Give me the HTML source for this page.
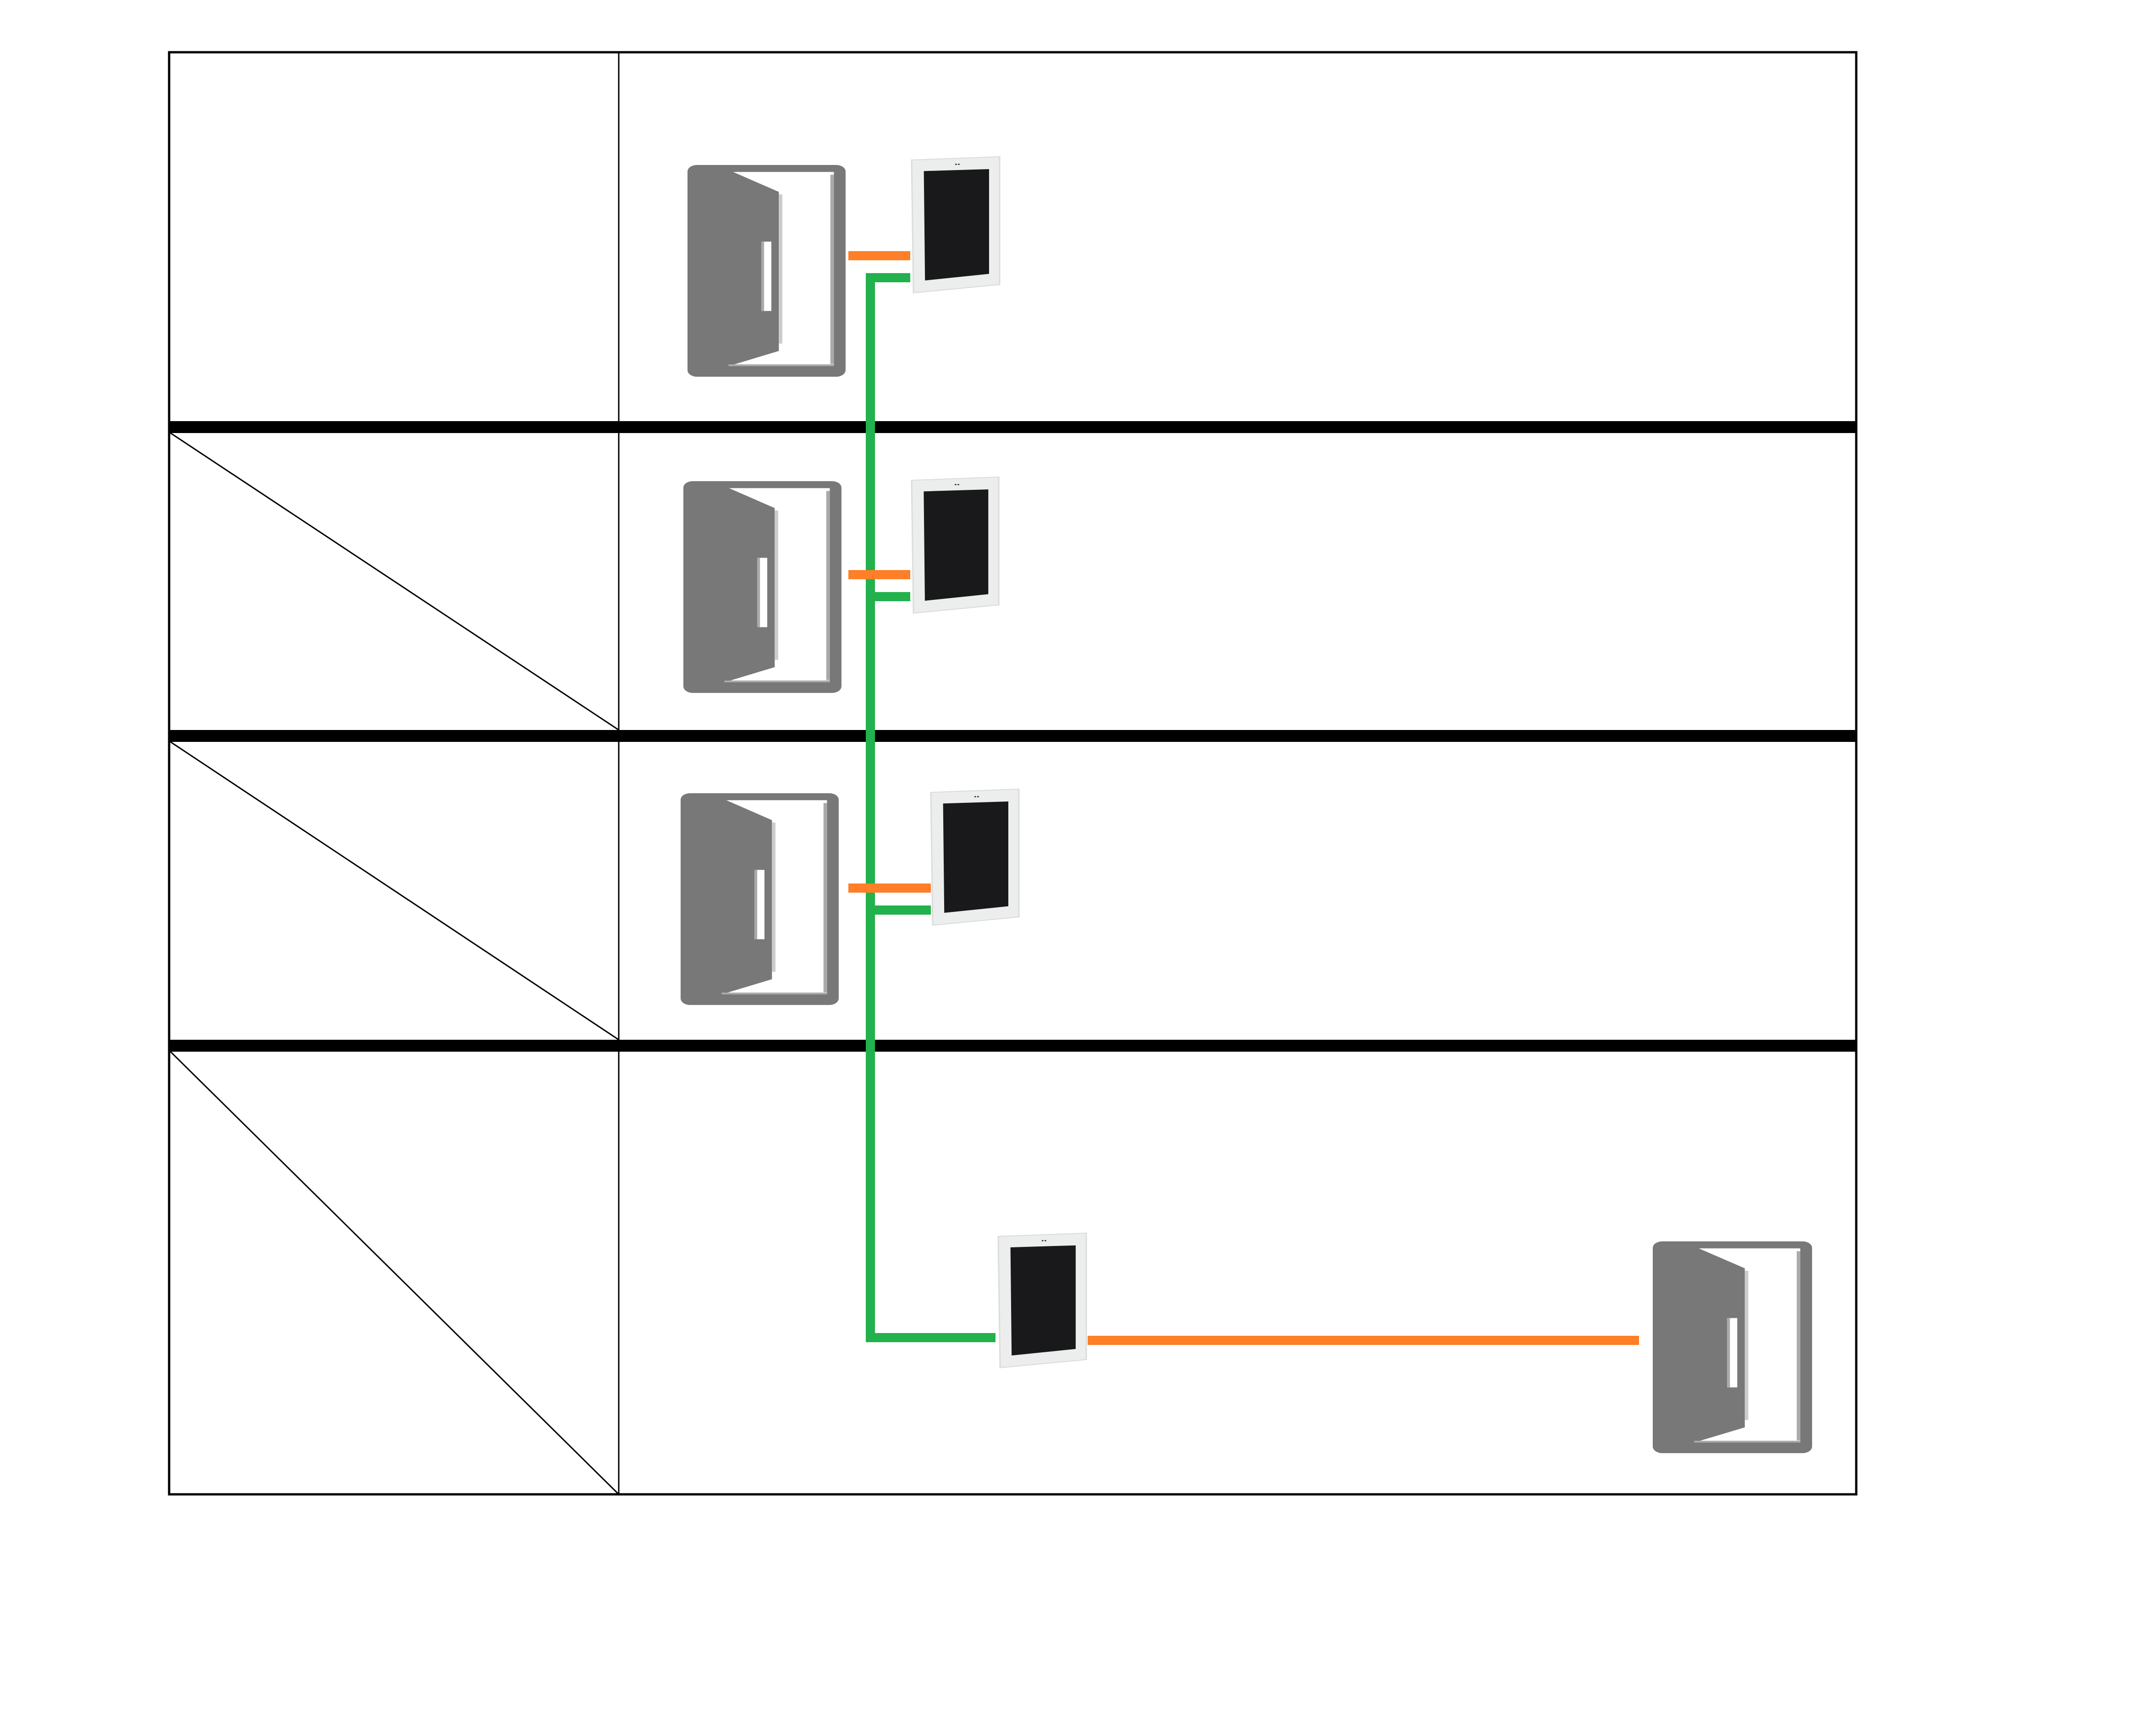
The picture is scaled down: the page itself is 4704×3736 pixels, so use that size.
<!DOCTYPE html>
<html><head><meta charset="utf-8"><style>html,body{margin:0;padding:0;background:#fff}svg{display:block}</style></head>
<body>
<svg width="4704" height="3736" viewBox="0 0 4704 3736" xmlns="http://www.w3.org/2000/svg">
<defs>
<g id="door">
<rect x="0" y="0" width="675" height="1298" rx="40" fill="#787878"/>
<polygon points="195,43 625,43 625,1233 175,1233 390,1140 390,165" fill="#fff"/>
<rect x="390" y="180" width="15" height="915" fill="#ccc"/>
<rect x="610" y="60" width="15" height="1160" fill="#aaa"/>
<rect x="175" y="1222" width="450" height="11" fill="#aaa"/>
<rect x="315" y="470" width="43" height="425" fill="#fff"/>
<rect x="315" y="470" width="12" height="425" fill="#aaa"/>
</g>
<g id="tab">
<polygon points="0,20 375,0 375,775 8,825" fill="#eceeed" stroke="#dcdcdc" stroke-width="6"/>
<polygon points="52,87 330,75 330,710 57,750" fill="#19191b"/>
<circle cx="189" cy="46" r="4" fill="#333"/><circle cx="201" cy="46" r="4" fill="#333"/>
</g>
</defs>
<!-- table -->
<rect x="369" y="114" width="3681" height="3147" fill="none" stroke="#000" stroke-width="5"/>
<line x1="1350" y1="114" x2="1350" y2="3261" stroke="#000" stroke-width="3"/>
<rect x="369" y="919" width="3681" height="26" fill="#000"/>
<rect x="369" y="1593" width="3681" height="26" fill="#000"/>
<rect x="369" y="2269" width="3681" height="26" fill="#000"/>
<line x1="372" y1="945" x2="1350" y2="1593" stroke="#000" stroke-width="3"/>
<line x1="372" y1="1619" x2="1350" y2="2269" stroke="#000" stroke-width="3"/>
<line x1="372" y1="2295" x2="1350" y2="3261" stroke="#000" stroke-width="3"/>
<!-- connectors -->
<g fill="none" stroke-width="20">
<polyline points="1986,606 1899,606 1899,2919 2172,2919" stroke="#22b14c"/>
<line x1="1899" y1="1302" x2="1986" y2="1302" stroke="#22b14c"/>
<line x1="1899" y1="1986" x2="2031" y2="1986" stroke="#22b14c"/>
<line x1="1851" y1="558" x2="1986" y2="558" stroke="#fe7f27"/>
<line x1="1851" y1="1254" x2="1986" y2="1254" stroke="#fe7f27"/>
<line x1="1851" y1="1938" x2="2031" y2="1938" stroke="#fe7f27"/>
<line x1="2373" y1="2925" x2="3576" y2="2925" stroke="#fe7f27"/>
</g>
<!-- doors -->
<use href="#door" transform="translate(1500,360) scale(0.511,0.356)"/>
<use href="#door" transform="translate(1491,1050) scale(0.511,0.356)"/>
<use href="#door" transform="translate(1485,1731) scale(0.511,0.356)"/>
<use href="#door" transform="translate(3606,2709) scale(0.515,0.356)"/>
<!-- tablets -->
<use href="#tab" transform="translate(1989,342) scale(0.512,0.36)"/>
<use href="#tab" transform="translate(1989,1041) scale(0.507,0.36)"/>
<use href="#tab" transform="translate(2031,1722) scale(0.512,0.36)"/>
<use href="#tab" transform="translate(2178,2691) scale(0.512,0.356)"/>
</svg>
</body></html>
